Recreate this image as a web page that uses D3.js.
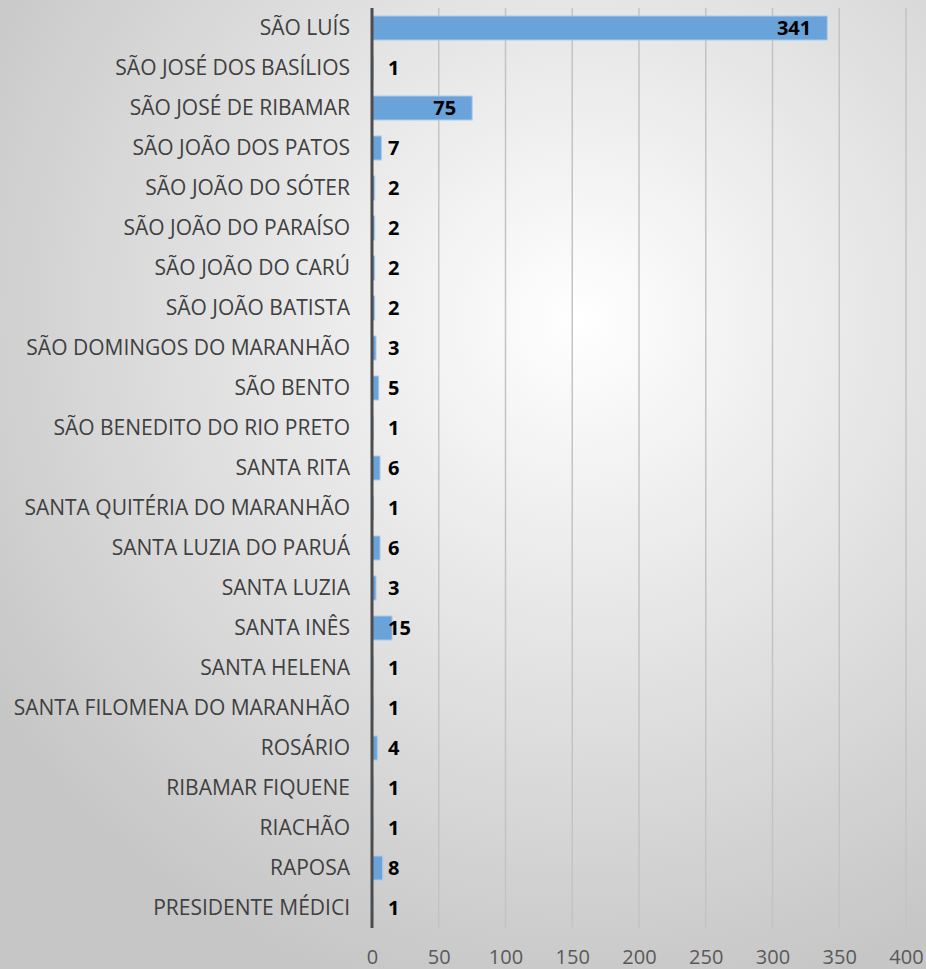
<!DOCTYPE html>
<html>
<head>
<meta charset="utf-8">
<script src="https://cdn.jsdelivr.net/npm/d3@7"></script>
<style>
  html, body { margin: 0; padding: 0; overflow: hidden; }
  svg { display: block; }
</style>
</head>
<body>
<div id="root"></div>
<script>
// municipios (top to bottom, as in the picture)
const cities = [
  "SÃO LUÍS", "SÃO JOSÉ DOS BASÍLIOS", "SÃO JOSÉ DE RIBAMAR", "SÃO JOÃO DOS PATOS",
  "SÃO JOÃO DO SÓTER", "SÃO JOÃO DO PARAÍSO", "SÃO JOÃO DO CARÚ", "SÃO JOÃO BATISTA",
  "SÃO DOMINGOS DO MARANHÃO", "SÃO BENTO", "SÃO BENEDITO DO RIO PRETO", "SANTA RITA",
  "SANTA QUITÉRIA DO MARANHÃO", "SANTA LUZIA DO PARUÁ", "SANTA LUZIA", "SANTA INÊS",
  "SANTA HELENA", "SANTA FILOMENA DO MARANHÃO", "ROSÁRIO", "RIBAMAR FIQUENE",
  "RIACHÃO", "RAPOSA", "PRESIDENTE MÉDICI"
];
const counts = [341, 1, 75, 7, 2, 2, 2, 2, 3, 5, 1, 6, 1, 6, 3, 15, 1, 1, 4, 1, 1, 8, 1];
const xTicks = [0, 50, 100, 150, 200, 250, 300, 350, 400];

window.onload = function() {
  init();
};

let init = () => {
  const W = 926, H = 969;
  const svg = d3.select("#root").append("svg")
    .attr("width", W)
    .attr("height", H);

  // fondo con degradado radial
  const grad = svg.append("defs").append("radialGradient")
    .attr("id", "bg")
    .attr("gradientUnits", "userSpaceOnUse")
    .attr("cx", 580).attr("cy", 320).attr("r", 700);
  grad.append("stop").attr("offset", "0%").attr("stop-color", "#ffffff");
  grad.append("stop").attr("offset", "100%").attr("stop-color", "#c6c6c6");
  svg.append("rect").attr("width", W).attr("height", H).attr("fill", "url(#bg)");

  const left = 372, right = 906, top = 8, bottom = 928;
  const font = "'Open Sans', sans-serif";
  const data = cities.map((c, i) => ({ city: c, value: counts[i] }));

  const x = d3.scaleLinear().domain([0, 400]).range([left, right]);
  const y = d3.scaleBand().domain(cities).range([top, bottom]).paddingInner(0.4).paddingOuter(0.2);

  // lineas de la grilla
  svg.append("g").selectAll("line")
    .data(xTicks.slice(1))
    .join("line")
    .attr("x1", d => x(d)).attr("x2", d => x(d))
    .attr("y1", top).attr("y2", bottom)
    .attr("stroke", "#c3c3c3")
    .attr("stroke-width", 1.5);

  // eje x (solo etiquetas)
  const xAxis = d3.axisBottom(x).tickValues(xTicks).tickSize(0).tickPadding(0);
  const xg = svg.append("g").attr("transform", `translate(0,${bottom + 22})`).call(xAxis);
  xg.select(".domain").remove();
  xg.selectAll("text")
    .attr("dy", "0.71em")
    .attr("fill", "#595959")
    .style("font-family", font)
    .style("font-size", "20px");

  // barras
  svg.append("g").selectAll("rect")
    .data(data)
    .join("rect")
    .attr("x", x(0))
    .attr("y", d => y(d.city))
    .attr("width", d => x(d.value) - x(0))
    .attr("height", y.bandwidth())
    .attr("fill", "#6aa3da")
    .attr("stroke", "#a8c9ec")
    .attr("stroke-width", 1);

  // etiquetas de categorias
  svg.append("g").selectAll("text")
    .data(data)
    .join("text")
    .attr("x", 350)
    .attr("y", d => y(d.city) + y.bandwidth() / 2)
    .attr("dy", "0.35em")
    .attr("text-anchor", "end")
    .attr("fill", "#404040")
    .style("font-family", font)
    .style("font-size", "21px")
    .text(d => d.city);

  // valores
  svg.append("g").selectAll("text")
    .data(data)
    .join("text")
    .attr("x", d => (x(d.value) - x(0) > 60 ? x(d.value) - 16 : x(0) + 16))
    .attr("y", d => y(d.city) + y.bandwidth() / 2)
    .attr("dy", "0.36em")
    .attr("text-anchor", d => (x(d.value) - x(0) > 60 ? "end" : "start"))
    .attr("fill", "#000")
    .style("font-family", font)
    .style("font-weight", "bold")
    .style("font-size", "20px")
    .text(d => d.value);

  // eje vertical
  svg.append("line")
    .attr("x1", x(0)).attr("x2", x(0))
    .attr("y1", top).attr("y2", bottom)
    .attr("stroke", "#4d4d4d")
    .attr("stroke-width", 3);
};
</script>
</body>
</html>
